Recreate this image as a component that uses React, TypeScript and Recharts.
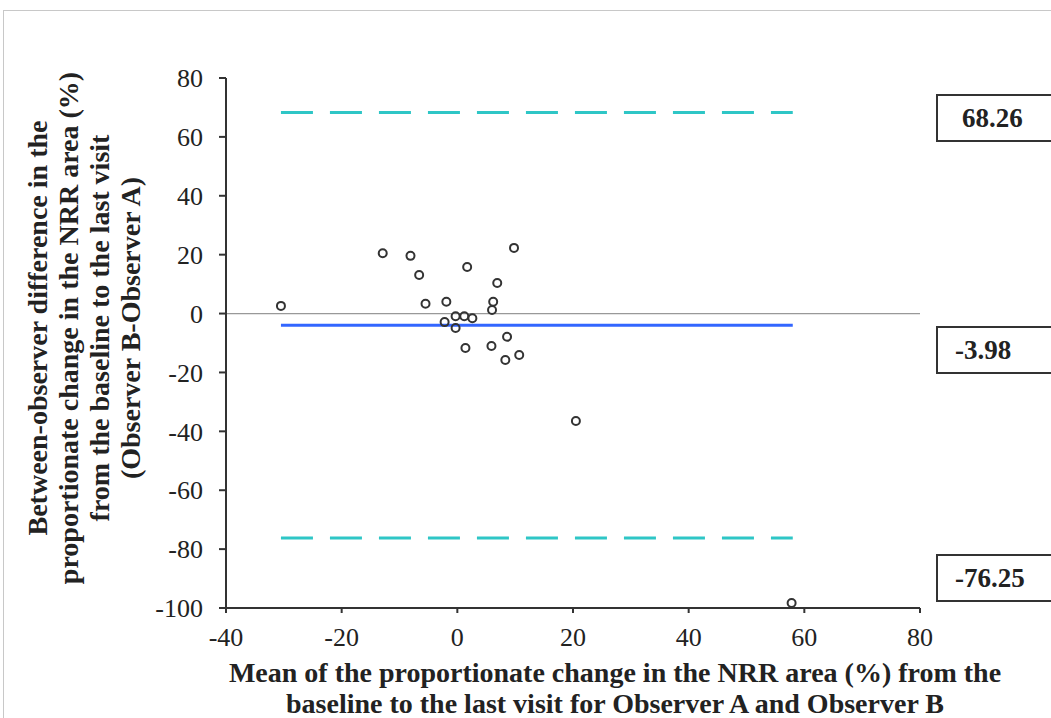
import React from "react";
import {
  ScatterChart,
  Scatter,
  XAxis,
  YAxis,
  ReferenceLine,
} from "recharts";

// Bland-Altman points: mean change (x) vs between-observer difference (y)
const meanChange = [
  -30.5, -12.9, -8.1, -6.6, -5.5, -1.9, -2.2, -0.3, -0.3, 1.2, 2.6, 1.7, 1.4,
  6.9, 6.2, 6.0, 5.9, 8.6, 8.3, 10.7, 9.8, 20.5, 57.8,
];
const difference = [
  2.6, 20.5, 19.6, 13.1, 3.3, 4.0, -2.9, -0.9, -4.9, -0.9, -1.6, 15.8, -11.7,
  10.4, 4.0, 1.2, -11.0, -7.9, -15.8, -14.1, 22.3, -36.5, -98.3,
];

const meanDiff = -3.98;
const upperLimit = 68.26;
const lowerLimit = -76.25;
const lineStart = -30.5;
const lineEnd = 58;

const xTicks = [-40, -20, 0, 20, 40, 60, 80];
const yTicks = [80, 60, 40, 20, 0, -20, -40, -60, -80, -100];

const yTitle = [
  "Between-observer difference in the",
  "proportionate change in the NRR area (%)",
  "from the baseline to the last visit",
  "(Observer B-Observer A)",
];
const xTitle = [
  "Mean of the proportionate change in the NRR area (%) from the",
  "baseline to the last visit for Observer A and Observer B",
];

const points = meanChange.map((x, i) => ({ x, y: difference[i] }));

const serif = "'Liberation Serif', 'Times New Roman', serif";

const OpenCircle = (props: any) => (
  <circle
    cx={props.cx}
    cy={props.cy}
    r={4}
    fill="none"
    stroke="#333"
    strokeWidth={2}
  />
);

const ValueBox = ({ value, top }: { value: number; top: number }) => (
  <div
    style={{
      position: "absolute",
      left: 936,
      top,
      width: 130,
      height: 48,
      border: "2px solid #333",
      background: "#fff",
      boxSizing: "border-box",
      fontFamily: serif,
      fontWeight: "bold",
      fontSize: 27,
      lineHeight: "44px",
      paddingLeft: value < 0 ? 17 : 24,
      color: "#222",
    }}
  >
    {value.toFixed(2)}
  </div>
);

const tickStyle = { fill: "#222", fontSize: 26, fontFamily: serif };

export default function App() {
  return (
    <div
      style={{
        position: "absolute",
        left: 0,
        top: 0,
        width: 1051,
        height: 718,
        background: "#fff",
        overflow: "hidden",
      }}
    >
      <div
        style={{
          position: "absolute",
          left: 3,
          top: 10,
          width: 1100,
          height: 800,
          borderTop: "1.5px solid #c8c8c8",
          borderLeft: "1.5px solid #c8c8c8",
        }}
      />
      <div style={{ position: "absolute", left: 0, top: 0 }}>
        <ScatterChart
          width={1051}
          height={718}
          margin={{ top: 78, right: 131, bottom: 80, left: 166 }}
        >
          <XAxis
            type="number"
            dataKey="x"
            domain={[-40, 80]}
            ticks={xTicks}
            interval={0}
            height={30}
            tick={tickStyle}
            tickSize={5}
            tickMargin={15}
            axisLine={{ stroke: "#333", strokeWidth: 2 }}
            tickLine={{ stroke: "#333", strokeWidth: 2 }}
          />
          <YAxis
            type="number"
            dataKey="y"
            domain={[-100, 80]}
            ticks={yTicks}
            interval={0}
            width={60}
            tick={tickStyle}
            tickSize={7}
            tickMargin={16}
            axisLine={{ stroke: "#333", strokeWidth: 2 }}
            tickLine={{ stroke: "#333", strokeWidth: 2 }}
          />
          <ReferenceLine y={0} stroke="#999" strokeWidth={1.2} />
          <ReferenceLine
            segment={[
              { x: lineStart, y: upperLimit },
              { x: lineEnd, y: upperLimit },
            ]}
            stroke="#2ec6c6"
            strokeWidth={3}
            strokeDasharray="32 17"
          />
          <ReferenceLine
            segment={[
              { x: lineStart, y: lowerLimit },
              { x: lineEnd, y: lowerLimit },
            ]}
            stroke="#2ec6c6"
            strokeWidth={3}
            strokeDasharray="32 17"
          />
          <ReferenceLine
            segment={[
              { x: lineStart, y: meanDiff },
              { x: lineEnd, y: meanDiff },
            ]}
            stroke="#3366ff"
            strokeWidth={3}
          />
          <Scatter data={points} shape={<OpenCircle />} isAnimationActive={false} />
        </ScatterChart>
      </div>

      <ValueBox value={upperLimit} top={94} />
      <ValueBox value={meanDiff} top={326} />
      <ValueBox value={lowerLimit} top={554} />

      <svg
        width={160}
        height={718}
        style={{ position: "absolute", left: 0, top: 0 }}
      >
        {yTitle.map((line, i) => (
          <text
            key={i}
            transform={`translate(${47 + i * 31}, 328) rotate(-90)`}
            textAnchor="middle"
            fontFamily={serif}
            fontWeight="bold"
            fontSize={28}
            fill="#222"
          >
            {line}
          </text>
        ))}
      </svg>
      <svg
        width={1051}
        height={80}
        style={{ position: "absolute", left: 0, top: 650 }}
      >
        {xTitle.map((line, i) => (
          <text
            key={i}
            x={615}
            y={32 + i * 31}
            textAnchor="middle"
            fontFamily={serif}
            fontWeight="bold"
            fontSize={28}
            fill="#222"
          >
            {line}
          </text>
        ))}
      </svg>
    </div>
  );
}
